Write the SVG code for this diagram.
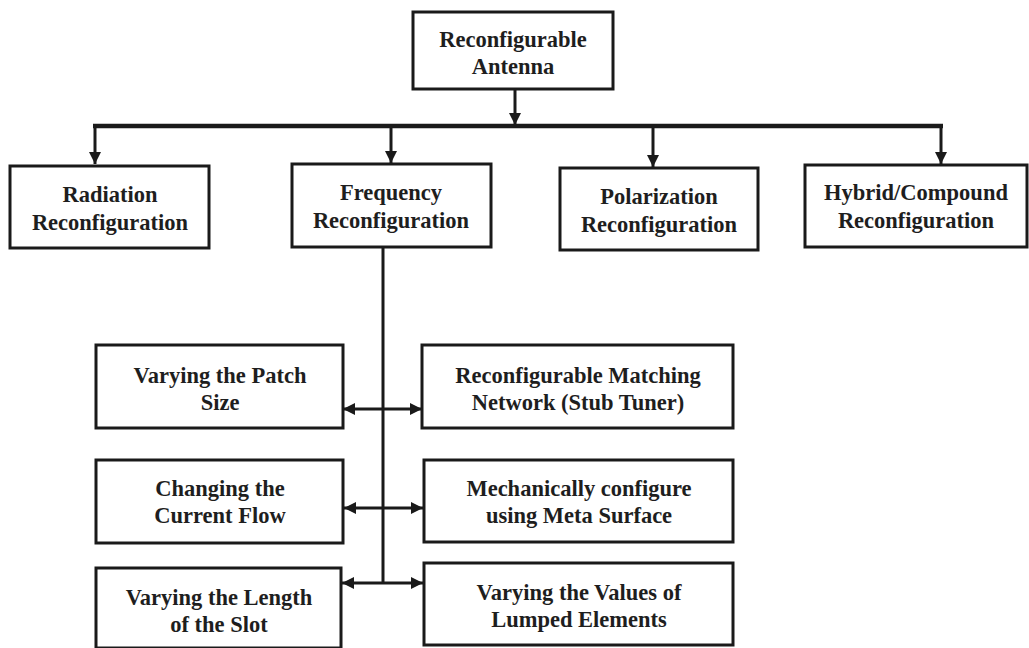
<svg xmlns="http://www.w3.org/2000/svg" width="1029" height="648" viewBox="0 0 1029 648">
<defs>
<marker id="ah" viewBox="0 0 12 12" refX="12" refY="6" markerWidth="12" markerHeight="12" markerUnits="userSpaceOnUse" orient="auto-start-reverse">
<path d="M0,0 L12,6 L0,12 Z" fill="#1a1a1a"/>
</marker>
<style>
rect.box{fill:#fff;stroke:#1a1a1a;stroke-width:3}
text{font-family:"Liberation Serif","Times New Roman",serif;font-weight:bold;font-size:22.5px;fill:#1e1e1e;text-anchor:middle}
.c line{stroke:#1a1a1a;stroke-width:3}
</style>
</defs>
<rect width="1029" height="648" fill="#fff"/>
<g class="c" id="connectors">
<line x1="515" y1="89" x2="515" y2="125" marker-end="url(#ah)"/>
<line x1="93" y1="126" x2="943" y2="126" style="stroke-width:4.5"/>
<line x1="95" y1="126" x2="95" y2="164" marker-end="url(#ah)"/>
<line x1="391" y1="126" x2="391" y2="163" marker-end="url(#ah)"/>
<line x1="653" y1="126" x2="653" y2="167" marker-end="url(#ah)"/>
<line x1="941" y1="126" x2="941" y2="164" marker-end="url(#ah)"/>
<line x1="383" y1="247" x2="383" y2="584"/>
<line x1="343" y1="409" x2="422" y2="409" marker-start="url(#ah)" marker-end="url(#ah)"/>
<line x1="344" y1="508" x2="423" y2="508" marker-start="url(#ah)" marker-end="url(#ah)"/>
<line x1="342" y1="583" x2="423" y2="583" marker-start="url(#ah)" marker-end="url(#ah)"/>
</g>
<g id="n-root"><rect class="box" x="413" y="12" width="200" height="77"/><text x="513" y="47">Reconfigurable</text><text x="513" y="74">Antenna</text></g>
<g id="n-radiation"><rect class="box" x="10" y="166" width="199" height="82"/><text x="110" y="202">Radiation</text><text x="110" y="230">Reconfiguration</text></g>
<g id="n-frequency"><rect class="box" x="292" y="164" width="199" height="83"/><text x="391" y="200">Frequency</text><text x="391" y="228">Reconfiguration</text></g>
<g id="n-polarization"><rect class="box" x="560" y="168" width="198" height="82"/><text x="659" y="204">Polarization</text><text x="659" y="232">Reconfiguration</text></g>
<g id="n-hybrid"><rect class="box" x="805" y="165" width="222" height="82"/><text x="916" y="200">Hybrid/Compound</text><text x="916" y="228">Reconfiguration</text></g>
<g id="n-patch"><rect class="box" x="96" y="345" width="247" height="83"/><text x="220" y="383">Varying the Patch</text><text x="220" y="410">Size</text></g>
<g id="n-matching"><rect class="box" x="422" y="345" width="311" height="83"/><text x="578" y="383">Reconfigurable Matching</text><text x="578" y="410">Network (Stub Tuner)</text></g>
<g id="n-current"><rect class="box" x="96" y="460" width="247" height="83"/><text x="220" y="496">Changing the</text><text x="220" y="523">Current Flow</text></g>
<g id="n-meta"><rect class="box" x="424" y="460" width="309" height="82"/><text x="579" y="496">Mechanically configure</text><text x="579" y="523">using Meta Surface</text></g>
<g id="n-slot"><rect class="box" x="96" y="568" width="245" height="80"/><text x="219" y="605">Varying the Length</text><text x="219" y="632">of the Slot</text></g>
<g id="n-lumped"><rect class="box" x="424" y="563" width="309" height="82"/><text x="579" y="600">Varying the Values of</text><text x="579" y="627">Lumped Elements</text></g>
</svg>
